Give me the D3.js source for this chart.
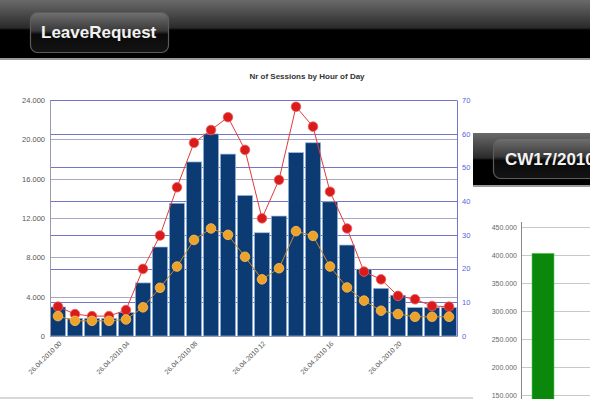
<!DOCTYPE html>
<html>
<head>
<meta charset="utf-8">
<script src="https://cdn.jsdelivr.net/npm/d3@7"></script>
<style>
  html, body { margin: 0; padding: 0; background: #fff; }
  svg { display: block; font-family: "Liberation Sans", Arial, sans-serif; }
</style>
</head>
<body>
<svg id="page" width="590" height="399"></svg>
<script>
// Sessions per hour of the day (bars, left axis)
const hours = ["00","01","02","03","04","05","06","07","08","09","10","11",
               "12","13","14","15","16","17","18","19","20","21","22","23"];
const sessions = [2950, 1800, 1800, 1800, 2400, 5400, 9050, 13500, 17700, 20550, 18500, 14300,
                  10500, 12200, 18650, 19650, 13650, 9250, 6800, 4850, 4150, 2900, 2900, 2900];
// Concurrent users per hour (lines, right axis)
const peakUsers = [8.7, 6.5, 5.9, 5.9, 7.7, 19.9, 29.8, 44.1, 57.3, 61.1, 64.9, 55.2,
                   34.9, 46.3, 68.0, 62.1, 42.8, 31.9, 19.1, 16.8, 11.9, 10.9, 8.9, 8.7];
const avgUsers = [5.9, 4.5, 4.5, 4.5, 4.9, 8.5, 14.3, 20.6, 28.5, 31.9, 30.0, 23.5,
                  16.8, 20.1, 31.1, 29.7, 20.6, 14.4, 10.5, 7.5, 6.5, 5.7, 5.7, 5.7];
const leftTicks = [0, 4000, 8000, 12000, 16000, 20000, 24000];
const rightTicks = [0, 10, 20, 30, 40, 50, 60, 70];
const dateLabel = "26.04.2010";
const labelEvery = 4;

// Weekly total (second panel)
const weekLabel = "CW17/2010";
const weekTotal = [403000];
const weekTicks = [150000, 200000, 250000, 300000, 350000, 400000, 450000];

const de = d3.formatLocale({decimal: ",", thousands: ".", grouping: [3], currency: ["", " €"]});
const fmt = de.format(",d");

const svg = d3.select("#page");
const defs = svg.append("defs");

// glossy header gradients
const hg = defs.append("linearGradient").attr("id", "hdr").attr("x1", 0).attr("y1", 0).attr("x2", 0).attr("y2", 1);
hg.append("stop").attr("offset", "0%").attr("stop-color", "#6a6a6a");
hg.append("stop").attr("offset", "48%").attr("stop-color", "#2a2a2a");
hg.append("stop").attr("offset", "52%").attr("stop-color", "#000");
hg.append("stop").attr("offset", "100%").attr("stop-color", "#000");
const bg = defs.append("linearGradient").attr("id", "btn").attr("x1", 0).attr("y1", 0).attr("x2", 0).attr("y2", 1);
bg.append("stop").attr("offset", "0%").attr("stop-color", "#707070");
bg.append("stop").attr("offset", "45%").attr("stop-color", "#3a3a3a");
bg.append("stop").attr("offset", "55%").attr("stop-color", "#0a0a0a");
bg.append("stop").attr("offset", "100%").attr("stop-color", "#141414");

function header(x, y, w, h, bx, by, bw, bh, text, tx, ty) {
  const clipId = "clip-" + text.replace(/\W/g, "");
  defs.append("clipPath").attr("id", clipId)
    .append("rect").attr("x", x).attr("y", y).attr("width", w).attr("height", h);
  svg.append("rect").attr("x", x).attr("y", y).attr("width", w).attr("height", h).attr("fill", "url(#hdr)");
  svg.append("rect").attr("x", x).attr("y", y + h).attr("width", w).attr("height", 2).attr("fill", "#9a9a9a");
  const g = svg.append("g").attr("clip-path", `url(#${clipId})`);
  g.append("rect").attr("x", bx).attr("y", by).attr("width", bw).attr("height", bh)
    .attr("rx", 7).attr("fill", "url(#btn)").attr("stroke", "#5c5c5c").attr("stroke-width", 1.2);
  g.append("text").attr("x", tx).attr("y", ty).text(text)
    .attr("fill", "#f2f2f2").attr("font-weight", "bold").attr("font-size", 17);
}

header(0, 0, 590, 58, 30.5, 12.5, 138, 40, "LeaveRequest", 41, 38);

// ---- main chart: sessions by hour ----
const plot = {left: 50, right: 457, top: 100, bottom: 336};

const x = d3.scaleBand().domain(hours).range([plot.left, plot.right]).paddingInner(0.1).paddingOuter(0.02);
const yL = d3.scaleLinear().domain([0, 24000]).range([plot.bottom, plot.top]);
const yR = d3.scaleLinear().domain([0, 70]).range([plot.bottom, plot.top]);

svg.append("text").attr("x", 307).attr("y", 79).attr("text-anchor", "middle")
  .attr("font-size", 8).attr("font-weight", "bold").attr("fill", "#333")
  .text("Nr of Sessions by Hour of Day");

// gridlines for both axes
svg.append("g").selectAll("line").data(leftTicks).join("line")
  .attr("x1", plot.left).attr("x2", plot.right)
  .attr("y1", d => Math.round(yL(d)) + 0.5).attr("y2", d => Math.round(yL(d)) + 0.5)
  .attr("stroke", "#a9a9c4").attr("stroke-width", 1);
svg.append("g").selectAll("line").data(rightTicks).join("line")
  .attr("x1", plot.left).attr("x2", plot.right)
  .attr("y1", d => Math.round(yR(d)) + 0.5).attr("y2", d => Math.round(yR(d)) + 0.5)
  .attr("stroke", "#7474c8").attr("stroke-width", 1);

// bars (light blue seams between neighbours)
svg.append("g").selectAll("rect").data(hours).join("rect")
  .attr("x", d => x(d)).attr("width", x.bandwidth())
  .attr("y", (d, i) => yL(sessions[i])).attr("height", (d, i) => plot.bottom - yL(sessions[i]))
  .attr("fill", "#0c3a72").attr("stroke", "#9cbde2").attr("stroke-width", 0.7);

// axes
const axL = svg.append("g").attr("transform", `translate(${plot.left},0)`)
  .call(d3.axisLeft(yL).tickValues(leftTicks).tickFormat(fmt).tickSize(0).tickPadding(5));
axL.select(".domain").attr("stroke", "#9a9aaa");
axL.selectAll("text").attr("font-size", 7.5).attr("fill", "#555").attr("font-family", "Liberation Sans, Arial, sans-serif");

const axR = svg.append("g").attr("transform", `translate(${plot.right},0)`)
  .call(d3.axisRight(yR).tickValues(rightTicks).tickSize(0).tickPadding(5));
axR.select(".domain").attr("stroke", "#7474c8");
axR.selectAll("text").attr("font-size", 7.5).attr("fill", "#6060d8").attr("font-family", "Liberation Sans, Arial, sans-serif");

const axB = svg.append("g").attr("transform", `translate(0,${plot.bottom})`)
  .call(d3.axisBottom(x).tickValues(hours.filter((h, i) => i % labelEvery === 0))
    .tickFormat(h => `${dateLabel} ${h}`).tickSize(0).tickPadding(0));
axB.select(".domain").attr("stroke", "#9a9aaa");
axB.selectAll("text")
  .attr("font-size", 6.8).attr("fill", "#555").attr("font-family", "Liberation Sans, Arial, sans-serif")
  .attr("text-anchor", "end").attr("dy", 0)
  .attr("transform", "translate(4,8) rotate(-45)");

// line series
const cx = i => x(hours[i]) + x.bandwidth() / 2;
const lineR = d3.line().x((d, i) => cx(i)).y(d => yR(d));

svg.append("path").datum(peakUsers).attr("d", lineR)
  .attr("fill", "none").attr("stroke", "#e23a3a").attr("stroke-width", 1);
svg.append("path").datum(avgUsers).attr("d", lineR)
  .attr("fill", "none").attr("stroke", "#c98a2a").attr("stroke-width", 1);

svg.append("g").selectAll("circle").data(peakUsers).join("circle")
  .attr("cx", (d, i) => cx(i)).attr("cy", d => yR(d)).attr("r", 4.8)
  .attr("fill", "#d81c1c").attr("stroke", "#f06060").attr("stroke-width", 0.8);
svg.append("g").selectAll("circle").data(avgUsers).join("circle")
  .attr("cx", (d, i) => cx(i)).attr("cy", d => yR(d)).attr("r", 4.8)
  .attr("fill", "#eea22a").attr("stroke", "#f7c060").attr("stroke-width", 0.8);

// bottom border of the panel
svg.append("rect").attr("x", 0).attr("y", 397).attr("width", 590).attr("height", 2).attr("fill", "#d8d8d8");

// ---- second panel: weekly total ----
svg.append("rect").attr("x", 473).attr("y", 186).attr("width", 117).attr("height", 213).attr("fill", "#fff");
header(473, 133, 117, 52, 493.5, 138.5, 110, 40, weekLabel, 505, 165);

const yW = d3.scaleLinear().domain([0, 450000]).range([479, 227]);
const wLeft = 521;
svg.append("g").selectAll("line").data(weekTicks).join("line")
  .attr("x1", wLeft).attr("x2", 590)
  .attr("y1", d => Math.round(yW(d)) + 0.5).attr("y2", d => Math.round(yW(d)) + 0.5)
  .attr("stroke", "#c8c8c8");
const axW = svg.append("g").attr("transform", `translate(${wLeft},0)`)
  .call(d3.axisLeft(yW).tickValues(weekTicks).tickFormat(fmt).tickSize(0).tickPadding(4));
axW.select(".domain").remove();
axW.selectAll("text").attr("font-size", 7).attr("fill", "#666").attr("font-family", "Liberation Sans, Arial, sans-serif");
svg.append("line").attr("x1", wLeft + 0.5).attr("x2", wLeft + 0.5).attr("y1", 222).attr("y2", 399)
  .attr("stroke", "#888");

const xW = d3.scaleBand().domain([weekLabel]).range([wLeft, 565]).paddingInner(0.3).paddingOuter(0.35);
svg.append("g").selectAll("rect").data(weekTotal).join("rect")
  .attr("x", xW(weekLabel)).attr("width", xW.bandwidth())
  .attr("y", d => yW(d)).attr("height", d => 479 - yW(d))
  .attr("fill", "#0b870b").attr("stroke", "#55cc55").attr("stroke-width", 0.6);
</script>
</body>
</html>
